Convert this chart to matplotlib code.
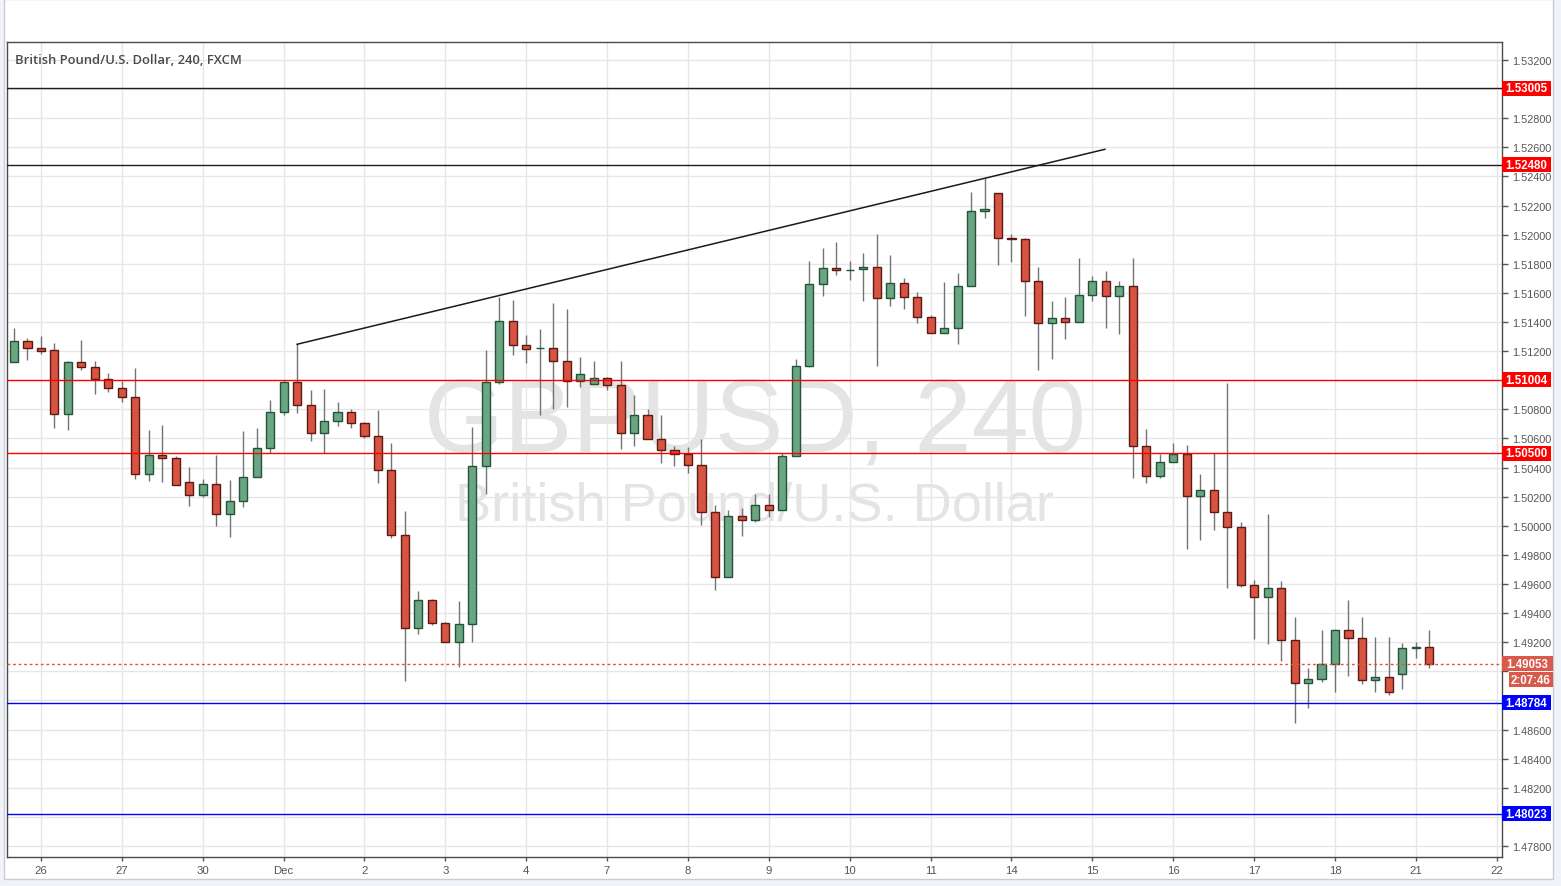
import matplotlib.pyplot as plt
import numpy as np
from matplotlib.patches import Rectangle
from matplotlib.transforms import blended_transform_factory, offset_copy

# GBPUSD 4h bars (FXCM), first bar = 25 Nov 16:00
opens = [1.51123, 1.51267, 1.51219, 1.51206, 1.50766, 1.51123, 1.51089, 1.51006, 1.50944, 1.50883,
         1.50354, 1.50484, 1.50464, 1.50299, 1.50210, 1.50285, 1.50079, 1.50168, 1.50333, 1.50532,
         1.50780, 1.50986, 1.50832, 1.50635, 1.50718, 1.50780, 1.50704, 1.50615, 1.50381, 1.49935,
         1.49296, 1.49488, 1.49330, 1.49200, 1.49323, 1.50409, 1.50986, 1.51405, 1.51240, 1.51219,
         1.51220, 1.51130, 1.50993, 1.50972, 1.51013, 1.50965, 1.50635, 1.50759, 1.50594, 1.50519,
         1.50491, 1.50416, 1.50093, 1.49646, 1.50065, 1.50038, 1.50141, 1.50106, 1.50477, 1.51096,
         1.51659, 1.51769, 1.51758, 1.51762, 1.51776, 1.51563, 1.51666, 1.51570, 1.51432, 1.51322,
         1.51357, 1.51645, 1.52161, 1.52284, 1.51975, 1.51968, 1.51680, 1.51391, 1.51426, 1.51398,
         1.51584, 1.51680, 1.51577, 1.51645, 1.50546, 1.50340, 1.50436, 1.50491, 1.50203, 1.50244,
         1.50093, 1.49990, 1.49591, 1.49509, 1.49571, 1.49213, 1.48918, 1.48945, 1.49049, 1.49282,
         1.49227, 1.48939, 1.48959, 1.48980, 1.49162, 1.49165]
highs = [1.51359, 1.51290, 1.51304, 1.51256, 1.51130, 1.51276, 1.51132, 1.51050, 1.50995, 1.51084,
         1.50658, 1.50692, 1.50482, 1.50404, 1.50322, 1.50486, 1.50315, 1.50649, 1.50672, 1.50864,
         1.51004, 1.51247, 1.50931, 1.50940, 1.50850, 1.50800, 1.50711, 1.50796, 1.50569, 1.50100,
         1.49550, 1.49495, 1.49337, 1.49481, 1.50677, 1.51208, 1.51574, 1.51549, 1.51311, 1.51352,
         1.51531, 1.51489, 1.51158, 1.51132, 1.51020, 1.51132, 1.50899, 1.50800, 1.50761, 1.50548,
         1.50539, 1.50594, 1.50143, 1.50109, 1.50122, 1.50218, 1.50218, 1.50498, 1.51144, 1.51819,
         1.51908, 1.51950, 1.51819, 1.51874, 1.52005, 1.51860, 1.51702, 1.51606, 1.51446, 1.51675,
         1.51737, 1.52293, 1.52387, 1.52284, 1.52003, 1.51975, 1.51776, 1.51542, 1.51570, 1.51838,
         1.51714, 1.51748, 1.51680, 1.51838, 1.50663, 1.50491, 1.50567, 1.50553, 1.50354, 1.50498,
         1.50981, 1.50024, 1.49628, 1.50081, 1.49621, 1.49371, 1.49021, 1.49284, 1.49289, 1.49490,
         1.49371, 1.49234, 1.49234, 1.49193, 1.49199, 1.49282]
lows = [1.51123, 1.51141, 1.51182, 1.50674, 1.50660, 1.51072, 1.50908, 1.50921, 1.50853, 1.50324,
        1.50310, 1.50303, 1.50278, 1.50138, 1.50200, 1.50001, 1.49925, 1.50131, 1.50333, 1.50498,
        1.50763, 1.50777, 1.50585, 1.50498, 1.50688, 1.50670, 1.50605, 1.50296, 1.49918, 1.48936,
        1.49255, 1.49320, 1.49200, 1.49032, 1.49200, 1.50220, 1.50976, 1.51175, 1.51120, 1.50763,
        1.50800, 1.50818, 1.50956, 1.50972, 1.50935, 1.50530, 1.50550, 1.50594, 1.50433, 1.50413,
        1.50365, 1.50008, 1.49556, 1.49646, 1.49932, 1.50024, 1.50058, 1.50106, 1.50477, 1.51089,
        1.51581, 1.51721, 1.51691, 1.51546, 1.51100, 1.51512, 1.51491, 1.51395, 1.51322, 1.51322,
        1.51247, 1.51645, 1.52117, 1.51794, 1.51814, 1.51439, 1.51072, 1.51148, 1.51285, 1.51398,
        1.51542, 1.51361, 1.51320, 1.50330, 1.50292, 1.50326, 1.50436, 1.49839, 1.49899, 1.49973,
        1.49575, 1.49582, 1.49224, 1.49190, 1.49073, 1.48647, 1.48750, 1.48925, 1.48856, 1.48966,
        1.48911, 1.48856, 1.48836, 1.48877, 1.49094, 1.49025]
closes = [1.51267, 1.51219, 1.51203, 1.50766, 1.51123, 1.51089, 1.51006, 1.50944, 1.50883, 1.50354,
          1.50484, 1.50464, 1.50278, 1.50210, 1.50285, 1.50079, 1.50168, 1.50333, 1.50532, 1.50780,
          1.50986, 1.50832, 1.50635, 1.50718, 1.50780, 1.50704, 1.50615, 1.50381, 1.49935, 1.49296,
          1.49488, 1.49330, 1.49200, 1.49323, 1.50409, 1.50986, 1.51405, 1.51240, 1.51217, 1.51220,
          1.51130, 1.50993, 1.51041, 1.51013, 1.50965, 1.50635, 1.50759, 1.50594, 1.50519, 1.50491,
          1.50416, 1.50093, 1.49646, 1.50065, 1.50038, 1.50141, 1.50106, 1.50477, 1.51096, 1.51659,
          1.51769, 1.51755, 1.51760, 1.51776, 1.51563, 1.51666, 1.51570, 1.51432, 1.51322, 1.51357,
          1.51645, 1.52161, 1.52174, 1.51975, 1.51970, 1.51680, 1.51391, 1.51426, 1.51398, 1.51584,
          1.51680, 1.51577, 1.51645, 1.50546, 1.50340, 1.50436, 1.50491, 1.50203, 1.50244, 1.50093,
          1.49990, 1.49591, 1.49509, 1.49571, 1.49213, 1.48918, 1.48945, 1.49049, 1.49282, 1.49227,
          1.48939, 1.48959, 1.48856, 1.49158, 1.49164, 1.49053]

day_labels = ['26', '27', '30', 'Dec', '2', '3', '4', '7', '8', '9', '10', '11',
              '14', '15', '16', '17', '18', '21', '22']
bars_per_day = 6
first_day_bar = 2

# drawn levels
level_prices = [1.53005, 1.52480, 1.51004, 1.50500, 1.48784, 1.48023]
level_line_colors = ['#1e1e1e', '#1e1e1e', '#ff0000', '#ff0000', '#0000ff', '#0000ff']
level_tag_colors = ['#ff0000', '#ff0000', '#ff0000', '#ff0000', '#0000ff', '#0000ff']

# trendline anchored on two highs, extended to bar 81
trend_x = [21, 72]
trend_y = [1.51247, 1.52387]
trend_end = 80.93

countdown = '2:07:46'

GREEN, GREEN_EDGE = '#6ba583', '#225437'
RED, RED_EDGE = '#d75442', '#5b1a13'
WICK = '#737375'
TXT = '#555555'

o, h, l, c = map(np.array, (opens, highs, lows, closes))
x = np.arange(len(o))
up = c >= o

W, H = 1561, 887
fig = plt.figure(figsize=(W / 100, H / 100), dpi=100, facecolor='#f0f3f7')
fig.patches.append(Rectangle((4 / W, 1 - 880 / H), 1549 / W, 880 / H, transform=fig.transFigure,
                             facecolor='white', edgecolor='#c9ccd1', lw=1, zorder=-5))

ax = fig.add_axes([7 / W, 29 / H, 1495 / W, 815 / H])
ax.set_facecolor('white')
ax.set_xlim(-0.52, 110.39)
ax.set_ylim(1.477245, 1.533237)

# price scale labels; the ones sitting under a price tag are hidden by it
tag_prices = level_prices + [c[-1], c[-1] - 0.0011]
yt = np.round(np.arange(1.478, 1.5321, 0.002), 3)
ylabels = ['' if min(abs(v - p) for p in tag_prices) < 0.0006 else f'{v:.5f}' for v in yt]
xt = np.arange(len(day_labels)) * bars_per_day + first_day_bar
ax.set_yticks(yt)
ax.set_yticklabels(ylabels)
ax.set_xticks(xt)
ax.set_xticklabels(day_labels)
ax.yaxis.tick_right()
ax.grid(True, color='#e6e6e6', lw=1, zorder=0)
ax.tick_params(axis='y', direction='out', length=4, width=1, color=TXT, labelcolor=TXT,
               labelsize=7.8, pad=3)
ax.tick_params(axis='x', direction='out', length=3, width=1, color=TXT, labelcolor=TXT,
               labelsize=8.2, pad=3)
for t in ax.get_xticklabels() + ax.get_yticklabels():
    t.set_fontfamily('Liberation Sans')
for s in ax.spines.values():
    s.set_color('#4a4a4a')
    s.set_linewidth(1)

# watermark
ax.text(0.5003, 0.531, 'GBPUSD, 240', transform=ax.transAxes, ha='center', va='center',
        fontsize=74, color='#e4e4e4', family='Liberation Sans', zorder=1)
ax.text(0.5003, 0.431, 'British Pound/U.S. Dollar', transform=ax.transAxes, ha='center',
        va='center', fontsize=39, color='#e4e4e4', family='Liberation Sans', zorder=1)

# candles
ax.vlines(x, l, h, color=WICK, lw=1, zorder=3)
body_bot = np.minimum(o, c)
body_h = np.maximum(np.abs(c - o), 0.00002)
ax.bar(x[up], body_h[up], 0.6, bottom=body_bot[up], color=GREEN, edgecolor=GREEN_EDGE,
       linewidth=1, zorder=4)
ax.bar(x[~up], body_h[~up], 0.6, bottom=body_bot[~up], color=RED, edgecolor=RED_EDGE,
       linewidth=1, zorder=4)

# levels
for p, col in zip(level_prices, level_line_colors):
    ax.axhline(p, color=col, lw=1, zorder=5)
ax.axhline(c[-1], color='#e0533f', lw=1, ls=(0, (2, 2)), zorder=5)

slope = (trend_y[1] - trend_y[0]) / (trend_x[1] - trend_x[0])
ax.plot([trend_x[0], trend_end], [trend_y[0], trend_y[0] + slope * (trend_end - trend_x[0])],
        color='#1a1a1a', lw=1.1, zorder=5)

# price tags on the right scale
px_per_unit = 815 / (1.533237 - 1.477245)
tag_h = 15 / px_per_unit
blend = blended_transform_factory(ax.transAxes, ax.transData)


def price_tag(price, text, color, dy=0, x0=0.0, w=49):
    tr = offset_copy(blend, fig=fig, x=x0, y=dy, units='dots')
    ax.add_patch(Rectangle((1.0, price - tag_h / 2), w / 1495, tag_h, transform=tr,
                           facecolor=color, edgecolor='none', clip_on=False, zorder=10))
    ax.text(1.0 + w / 1495 / 2, price, text, transform=tr, ha='center', va='center',
            color='white', fontsize=8.3, fontweight='bold', family='Liberation Sans',
            clip_on=False, zorder=11)


for p, col in zip(level_prices, level_tag_colors):
    price_tag(p, f'{p:.5f}', col)
price_tag(c[-1], f'{c[-1]:.5f}', '#d9594a', w=51)
price_tag(c[-1], countdown, '#d9594a', dy=-16, x0=7, w=44)

ax.text(0.0054, 0.979, 'British Pound/U.S. Dollar, 240, FXCM', transform=ax.transAxes,
        ha='left', va='center', fontsize=9.4, fontweight='semibold', family='Open Sans',
        color='#4a4a4a', zorder=12)

fig.savefig('out.png', dpi=100, facecolor=fig.get_facecolor())
